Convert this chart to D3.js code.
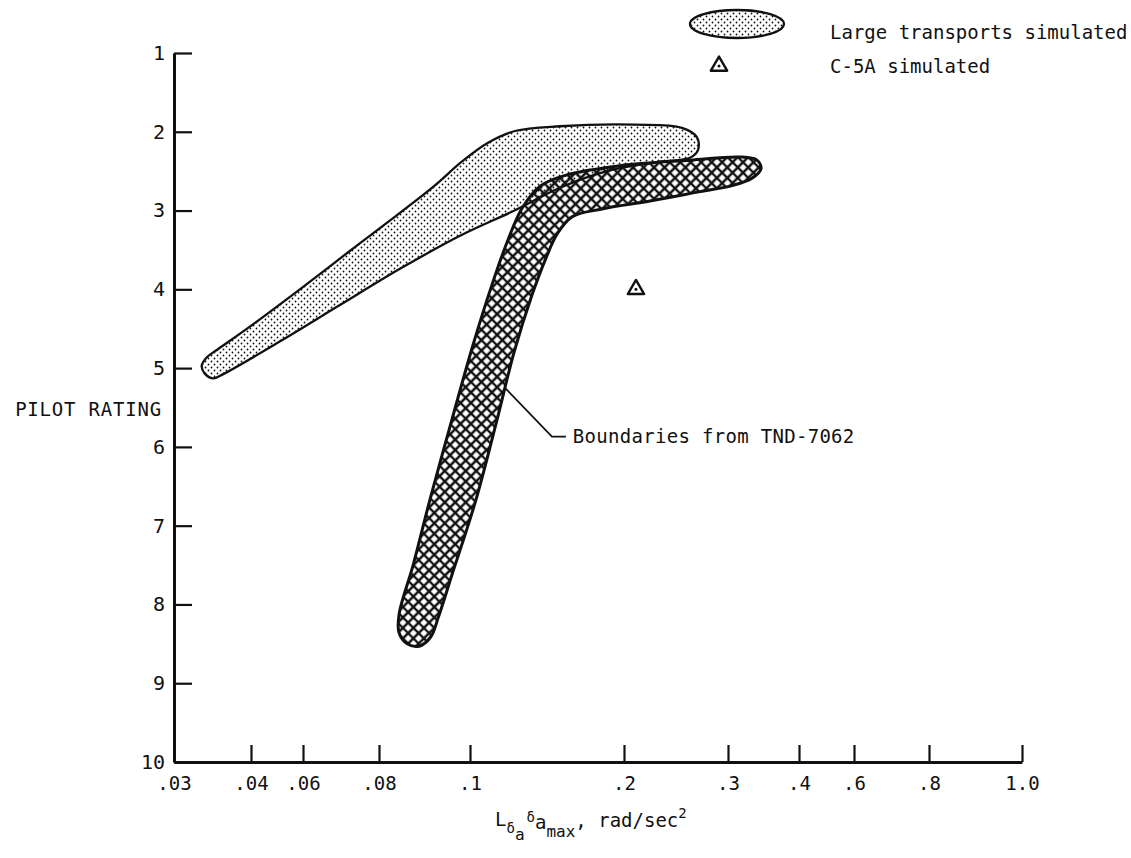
<!DOCTYPE html>
<html>
<head>
<meta charset="utf-8">
<script src="https://cdn.jsdelivr.net/npm/d3@7"></script>
<style>
  body { margin: 0; background: #fff; }
  text { font-family: "DejaVu Sans Mono", "Liberation Mono", monospace; fill: #111; }
</style>
</head>
<body>
<svg id="chart" width="1131" height="858"></svg>
<script>
// Axis ticks (the abscissa is a stretched, non-uniform scale)
const xTickValues = [0.03, 0.04, 0.06, 0.08, 0.1, 0.2, 0.3, 0.4, 0.6, 0.8, 1.0];
const xTickLabels = [".03", ".04", ".06", ".08", ".1", ".2", ".3", ".4", ".6", ".8", "1.0"];
const yTickValues = [1, 2, 3, 4, 5, 6, 7, 8, 9, 10];

// Region flown in large-transport simulations: [L_da*da_max, pilot rating]
const largeTransports = [
  [0.0336, 4.97], [0.0343, 4.86], [0.0357, 4.76], [0.0399, 4.47], [0.0588, 4.00],
  [0.0724, 3.51], [0.0846, 3.03], [0.0923, 2.68], [0.0982, 2.38], [0.1117, 2.14],
  [0.1292, 1.99], [0.1584, 1.93], [0.2106, 1.91], [0.2558, 1.95], [0.2702, 2.07],
  [0.2712, 2.23], [0.2635, 2.33], [0.2346, 2.38], [0.1909, 2.49], [0.1584, 2.71],
  [0.1299, 2.99], [0.0978, 3.32], [0.0846, 3.74], [0.0697, 4.20], [0.0512, 4.66],
  [0.0365, 5.07], [0.0351, 5.13], [0.0340, 5.07]
];

// Boundaries from TND-7062
const tnd7062 = [
  [0.0844, 8.13], [0.0875, 7.50], [0.0912, 6.67], [0.0960, 5.66], [0.1019, 4.71],
  [0.1143, 3.94], [0.1247, 3.37], [0.1338, 2.97], [0.1455, 2.69], [0.1623, 2.55],
  [0.1974, 2.43], [0.2635, 2.36], [0.3169, 2.32], [0.3408, 2.36], [0.3465, 2.47],
  [0.3338, 2.59], [0.3070, 2.68], [0.2731, 2.76], [0.2250, 2.88], [0.1857, 2.98],
  [0.1662, 3.08], [0.1565, 3.30], [0.1494, 3.60], [0.1403, 4.07], [0.1286, 4.80],
  [0.1175, 5.66], [0.1039, 6.67], [0.0960, 7.63], [0.0930, 8.17], [0.0914, 8.41],
  [0.0888, 8.53], [0.0862, 8.50], [0.0844, 8.36]
];

// C-5A simulated point
const c5a = [[0.2115, 4.0]];

// Callout for the TND-7062 region
const calloutPath = [[0.1227, 5.25], [0.1532, 5.87], [0.1623, 5.87]];
const calloutText = { x: 0.1668, y: 5.87, label: "Boundaries from TND-7062" };

// ---- layout ----
const xBreaks = [174, 251, 303, 379, 470, 624, 728, 799, 854, 929, 1022];
const svg = d3.select("#chart");

const x = d3.scaleLinear().domain(xTickValues).range(xBreaks);
const y = d3.scaleLinear().domain([1, 10]).range([53, 762]);

// fill patterns
const defs = svg.append("defs");
const dots = defs.append("pattern")
  .attr("id", "stipple").attr("patternUnits", "userSpaceOnUse")
  .attr("width", 6).attr("height", 6);
dots.append("circle").attr("cx", 1.5).attr("cy", 1.5).attr("r", 0.9).attr("fill", "#111");
dots.append("circle").attr("cx", 4.5).attr("cy", 4.5).attr("r", 0.9).attr("fill", "#111");

const hatch = defs.append("pattern")
  .attr("id", "crosshatch").attr("patternUnits", "userSpaceOnUse")
  .attr("width", 7.4).attr("height", 7.4)
  .attr("patternTransform", "rotate(45)");
hatch.append("path").attr("d", "M0,3.7H7.4M3.7,0V7.4")
  .attr("stroke", "#111").attr("stroke-width", 2.5).attr("fill", "none");

const outline = d3.line()
  .x(d => x(d[0])).y(d => y(d[1]))
  .curve(d3.curveCatmullRomClosed.alpha(0.5));

svg.append("path").datum(largeTransports)
  .attr("d", outline)
  .attr("fill", "url(#stipple)")
  .attr("stroke", "#111").attr("stroke-width", 2.3);

svg.append("path").datum(tnd7062)
  .attr("d", outline)
  .attr("fill", "url(#crosshatch)")
  .attr("stroke", "#111").attr("stroke-width", 3);

// axes
const xAxis = d3.axisBottom(x)
  .tickValues(xTickValues)
  .tickFormat((d, i) => xTickLabels[i])
  .tickSizeInner(-17).tickSizeOuter(0).tickPadding(15);
const yAxis = d3.axisLeft(y)
  .tickValues(yTickValues)
  .tickFormat(d3.format("d"))
  .tickSizeInner(-18).tickSizeOuter(0).tickPadding(9);

const gx = svg.append("g").attr("transform", `translate(0,${y(10)})`).call(xAxis);
const gy = svg.append("g").attr("transform", `translate(${x(0.03)},0)`).call(yAxis);
[gx, gy].forEach(g => {
  g.select(".domain").attr("stroke", "#111").attr("stroke-width", 3);
  g.selectAll(".tick line").attr("stroke", "#111").attr("stroke-width", 2.2);
  g.selectAll(".tick text")
    .attr("font-family", "DejaVu Sans Mono, monospace")
    .attr("fill", "#111");
});
gx.selectAll(".tick text").attr("font-size", 19);
gy.selectAll(".tick text").attr("font-size", 20);

// axis titles
svg.append("text")
  .attr("x", 162).attr("y", 409).attr("dy", "0.35em")
  .attr("text-anchor", "end").attr("font-size", 19).attr("letter-spacing", 0.8)
  .text("PILOT RATING");

const xt = svg.append("text").attr("x", 495).attr("y", 826).attr("font-size", 19);
xt.append("tspan").text("L");
xt.append("tspan").attr("dy", 7).attr("font-size", 14).text("δ");
xt.append("tspan").attr("dy", 7).attr("font-size", 16).text("a");
xt.append("tspan").attr("dy", -18).attr("dx", 2).attr("font-size", 14).text("δ");
xt.append("tspan").attr("dy", 7).attr("font-size", 19).text("a");
xt.append("tspan").attr("dy", 8).attr("font-size", 16).text("max");
xt.append("tspan").attr("dy", -10).text(", rad/sec");
xt.append("tspan").attr("dy", -9).attr("font-size", 14).text("2");

// C-5A point
const tri = d3.symbol().type(d3.symbolTriangle).size(115);
const pts = svg.append("g").selectAll("g").data(c5a).join("g")
  .attr("transform", d => `translate(${x(d[0])},${y(d[1])})`);
pts.append("path").attr("d", tri)
  .attr("fill", "#fff").attr("stroke", "#111").attr("stroke-width", 2.4)
  .attr("stroke-linejoin", "round");
pts.append("circle").attr("r", 1.5).attr("fill", "#111");

// callout
svg.append("path").datum(calloutPath)
  .attr("d", d3.line().x(d => x(d[0])).y(d => y(d[1])))
  .attr("fill", "none").attr("stroke", "#111").attr("stroke-width", 1.7);
svg.append("text")
  .attr("x", x(calloutText.x)).attr("y", y(calloutText.y)).attr("dy", "0.35em")
  .attr("font-size", 19).attr("letter-spacing", 0.3)
  .text(calloutText.label);

// legend
const legend = svg.append("g");
legend.append("ellipse")
  .attr("cx", 737).attr("cy", 24).attr("rx", 47).attr("ry", 14)
  .attr("fill", "url(#stipple)").attr("stroke", "#111").attr("stroke-width", 2.3);
legend.append("text").attr("x", 830).attr("y", 32).attr("dy", "0.35em")
  .attr("font-size", 19)
  .text("Large transports simulated");
const lt = legend.append("g").attr("transform", "translate(719,66)");
lt.append("path").attr("d", tri)
  .attr("fill", "#fff").attr("stroke", "#111").attr("stroke-width", 2.4)
  .attr("stroke-linejoin", "round");
lt.append("circle").attr("r", 1.5).attr("fill", "#111");
legend.append("text").attr("x", 830).attr("y", 66).attr("dy", "0.35em")
  .attr("font-size", 19)
  .text("C-5A simulated");
</script>
</body>
</html>
